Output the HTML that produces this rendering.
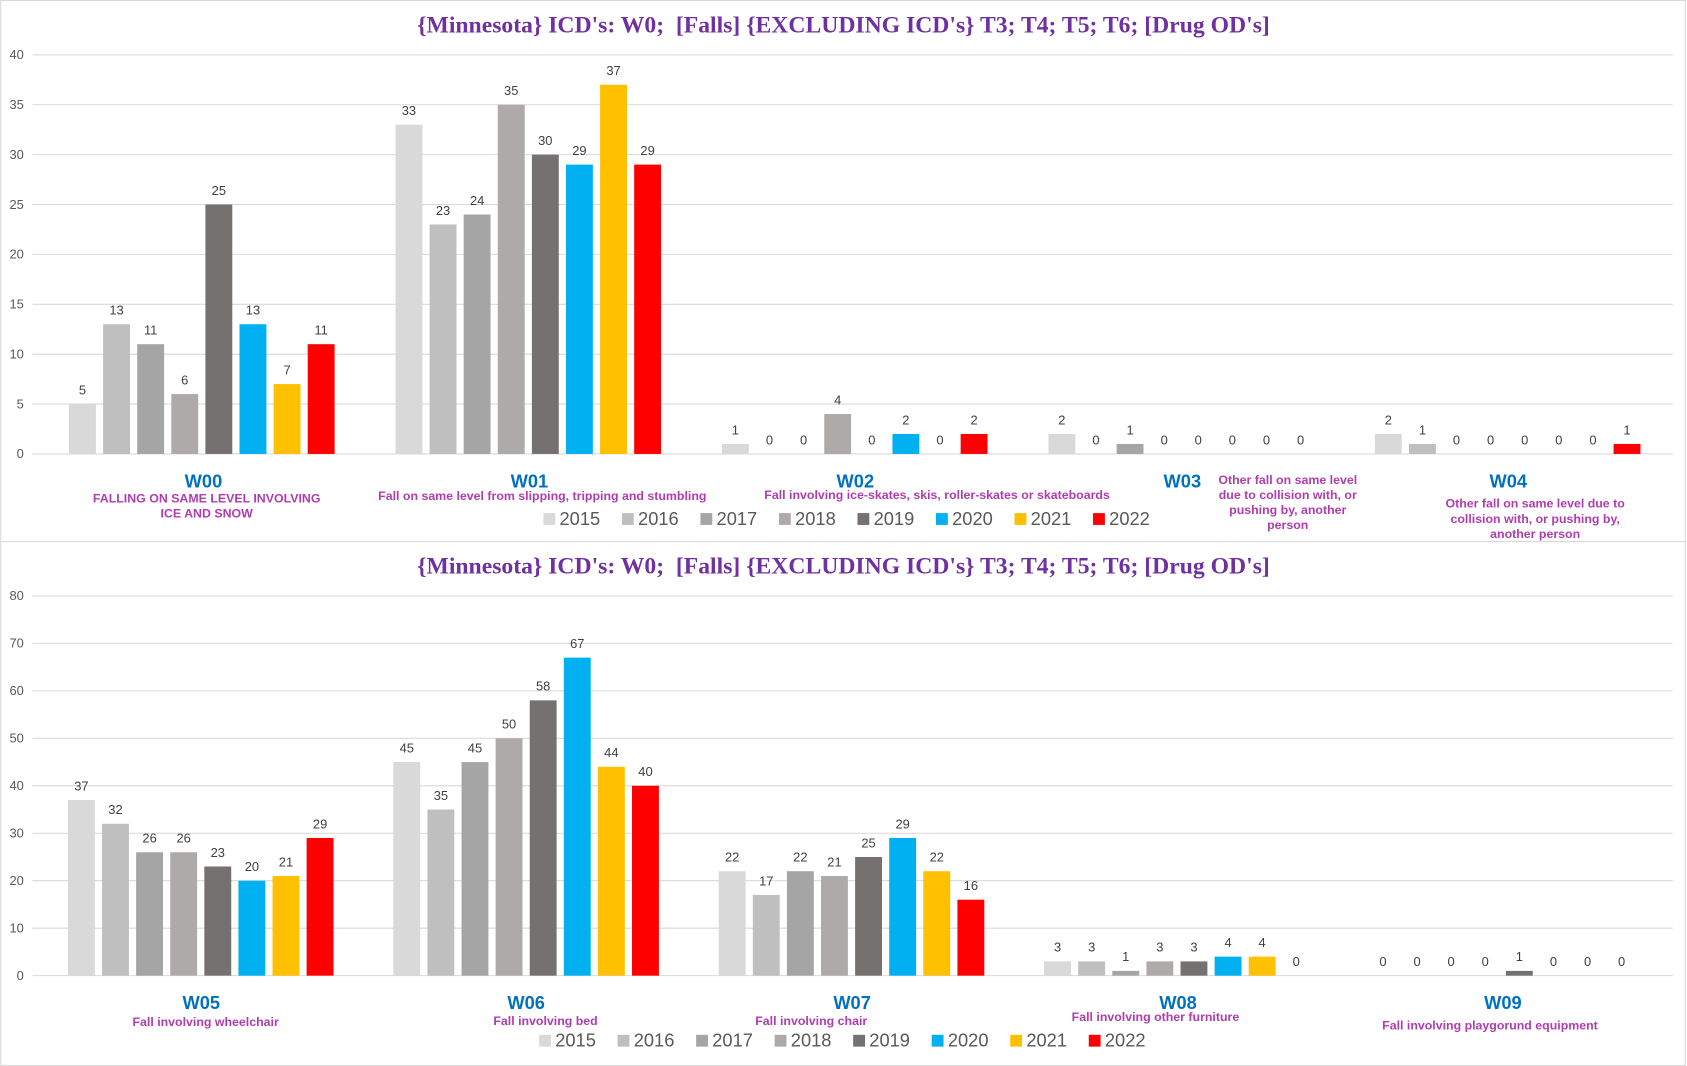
<!DOCTYPE html>
<html><head><meta charset="utf-8"><style>
html,body{margin:0;padding:0;background:#fff;}
svg{display:block;font-family:"Liberation Sans",sans-serif;}
</style></head><body>
<svg id="chart" width="1687" height="1066" viewBox="0 0 1568 991" xmlns="http://www.w3.org/2000/svg"></svg>
<script>
const years = ["2015","2016","2017","2018","2019","2020","2021","2022"];
const colors = ["#d9d9d9","#bfbfbf","#a5a5a5","#aeaaaa","#767171","#00b0f0","#ffc000","#ff0000"];
const topCats = ["W00","W01","W02","W03","W04"];
const topValues = [
  [5,13,11,6,25,13,7,11],
  [33,23,24,35,30,29,37,29],
  [1,0,0,4,0,2,0,2],
  [2,0,1,0,0,0,0,0],
  [2,1,0,0,0,0,0,1]
];
const topTicks = [0,5,10,15,20,25,30,35,40];
const botCats = ["W05","W06","W07","W08","W09"];
const botValues = [
  [37,32,26,26,23,20,21,29],
  [45,35,45,50,58,67,44,40],
  [22,17,22,21,25,29,22,16],
  [3,3,1,3,3,4,4,0],
  [0,0,0,0,1,0,0,0]
];
const botTicks = [0,10,20,30,40,50,60,70,80];

const NS="http://www.w3.org/2000/svg";
const svg=document.getElementById('chart');
function mk(tag,attrs,parent,text){const e=document.createElementNS(NS,tag);for(const k in attrs)e.setAttribute(k,attrs[k]);if(text!==undefined)e.textContent=text;(parent||svg).appendChild(e);return e;}

function panel(cfg){
  const g=mk('g',{});
  
  
  const bg=mk('rect',{x:cfg.x0+0.5,y:cfg.y0+0.5,width:1566,height:cfg.h,fill:'#fff',stroke:'#d9d9d9'},g);
  
  
  const t=mk('text',{x:784,y:cfg.titleY,'text-anchor':'middle','font-family':'Liberation Serif, serif','font-weight':'bold','font-size':22,fill:'#7030a0',style:'white-space:pre'},g,"{Minnesota} ICD's: W0;  [Falls] {EXCLUDING ICD's} T3; T4; T5; T6; [Drug OD's]");
  
  
  const maxV=cfg.ticks[cfg.ticks.length-1];
  const y=v=>cfg.yZero-(cfg.yZero-cfg.yTop)*v/maxV;
  const L=30,R=1555,gw=cfg.gw;
  cfg.ticks.forEach(tv=>{
    const ln=mk('line',{x1:L,x2:R,y1:y(tv),y2:y(tv),stroke:'#d9d9d9','stroke-width':1},g);
    
    
    const lb=mk('text',{x:22,y:y(tv)+4,'text-anchor':'end','font-size':12,fill:'#595959'},g,String(tv));
    
    
  });
  cfg.cats.forEach((c,ci)=>{
    const gx=L+ci*gw;
    cfg.values[ci].forEach((v,si)=>{
      const bx=gx+cfg.off+si*31.7;
      const r=mk('rect',{x:bx,y:y(v),width:25,height:cfg.yZero-y(v),fill:colors[si]},g);
      
      
      const dl=mk('text',{x:bx+12.5,y:y(v)-9,'text-anchor':'middle','font-size':12,fill:'#404040'},g,String(v));
      
      
    });
  });
  cfg.labels.forEach(lab=>{
    const ct=mk('text',{x:lab.x,y:lab.y,'text-anchor':'middle','font-size':17,'font-weight':'bold',fill:'#0070c0'},g,lab.code);
    
    
    lab.sub.forEach((s,i)=>{
      const st=mk('text',{x:lab.sx,y:lab.sy+i*14,'text-anchor':'middle','font-size':11.5,'font-weight':'bold',fill:'#b03cb0'},g,s);
      
      
    });
  });
  const lg=mk('g',{},g);
  
  
  years.forEach((yr,i)=>{
    const lx=cfg.legX+i*73;
    const sq=mk('rect',{x:lx,y:cfg.legY-11,width:11,height:11,fill:colors[i]},lg);
    
    
    const lt=mk('text',{x:lx+15,y:cfg.legY,'font-size':17,fill:'#595959'},lg,yr);
    
    
  });
}

panel({name:'top-chart',x0:0,y0:0,h:503,titleY:30,yTop:51,yZero:422,ticks:topTicks,cats:topCats,values:topValues,off:34,gw:303.5,
  legX:505,legY:488,
  labels:[
    {code:'W00',x:189,y:453,sx:192,sy:467,sub:['FALLING ON SAME LEVEL INVOLVING','ICE AND SNOW']},
    {code:'W01',x:492,y:453,sx:504,sy:465,sub:['Fall on same level from slipping, tripping and stumbling']},
    {code:'W02',x:795,y:453,sx:871,sy:464,sub:['Fall involving ice-skates, skis, roller-skates or skateboards']},
    {code:'W03',x:1099,y:453,sx:1197,sy:450,sub:['Other fall on same level','due to collision with, or','pushing by, another','person']},
    {code:'W04',x:1402,y:453,sx:1427,sy:472,sub:['Other fall on same level due to','collision with, or pushing by,','another person']}
  ]});
panel({name:'bottom-chart',x0:0,y0:503,h:487,titleY:533,yTop:554,yZero:907,ticks:botTicks,cats:botCats,values:botValues,off:33,gw:302.5,
  legX:501,legY:973,
  labels:[
    {code:'W05',x:187,y:938,sx:191,sy:954,sub:['Fall involving wheelchair']},
    {code:'W06',x:489,y:938,sx:507,sy:953,sub:['Fall involving bed']},
    {code:'W07',x:792,y:938,sx:754,sy:953,sub:['Fall involving chair']},
    {code:'W08',x:1095,y:938,sx:1074,sy:949,sub:['Fall involving other furniture']},
    {code:'W09',x:1397,y:938,sx:1385,sy:957,sub:['Fall involving playgorund equipment']}
  ]});
</script>
</body></html>
